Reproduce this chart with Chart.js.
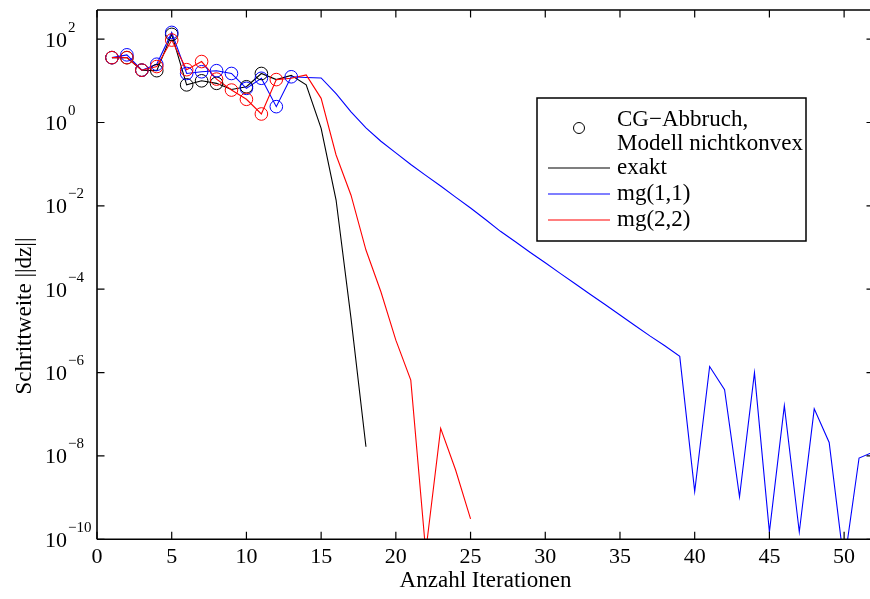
<!DOCTYPE html>
<html><head><meta charset="utf-8">
<script src="https://cdn.jsdelivr.net/npm/chart.js@4.4.1/dist/chart.umd.min.js"></script>
<style>
html,body{margin:0;padding:0;overflow:hidden;background:#fff;width:870px;height:599px}
#wrap{position:relative;width:874px;height:599px}
canvas{display:block}
</style></head>
<body><div id="wrap"><canvas id="c" width="874" height="599"></canvas></div>
<script>
// ---- data ----
const iterations = [1,2,3,4,5,6,7,8,9,10,11,12,13,14,15,16,17,18,19,20,21,22,23,24,25,26,
  27,28,29,30,31,32,33,34,35,36,37,38,39,40,41,42,43,44,45,46,47,48,49,50,51,52];
const exaktValues = [36, 36, 18, 17.5, 130, 8.0, 10, 8.7, 6.2, 7.2, 15, 10.7, 13.5, 8.0,
  0.72, 0.0138, 2.0e-5, 1.66e-8];
const mg11Values = [36, 42, 18, 25, 145, 15, 16.5, 17.5, 15, 6.6,
  11.5, 2.4, 12.5, 12, 11.7, 4.9, 1.8, 0.74, 0.355, 0.186,
  0.098, 0.054, 0.030, 0.0162, 0.0089, 0.0047, 0.00245, 0.00138, 7.6e-4, 4.3e-4,
  2.4e-4, 1.35e-4, 7.6e-5, 4.3e-5, 2.4e-5, 1.35e-5, 7.6e-6, 4.4e-6, 2.45e-6, 1.4e-9,
  1.4e-6, 3.9e-7, 1.05e-9, 1.0e-6, 1.5e-10, 1.6e-7, 1.5e-10, 1.35e-7, 2.1e-8, 2.5e-11,
  8.9e-9, 1.26e-8];
const mg22Values = [36, 36, 18, 22, 95, 18.5, 29, 11, 6.0, 3.6, 1.6, 10.7, 11.5, 13.8,
  3.8, 0.166, 0.018, 8.7e-4, 8.7e-5, 6.0e-6, 6.6e-7, 5e-11, 4.6e-8, 4.6e-9, 3.1e-10];
// iterations where CG stopped because the model was non-convex (circles)
const cgExakt = [1,2,3,4,5,6,7,8,10,11];
const cgMg11 = [1,2,3,4,5,6,7,8,9,10,11,12,13];
const cgMg22 = [1,2,3,4,5,6,7,8,9,10,11,12];
const xTicks = [0,5,10,15,20,25,30,35,40,45,50];
const yTickExponents = [-10,-8,-6,-4,-2,0,2];
const xLabel = 'Anzahl Iterationen';
const yLabel = 'Schrittweite ||dz||';
const legendCircleText = ['CG\u2212Abbruch,', 'Modell nichtkonvex'];
const seriesNames = ['exakt', 'mg(1,1)', 'mg(2,2)'];
const seriesColors = ['#000000', '#0000ff', '#ff0000'];

const FONT = "'Liberation Serif','Times New Roman',serif";

function linePts(vals){ return vals.map((v,i)=>({x:iterations[i], y:v})); }
function circlePts(vals, idx){ return idx.map(i=>({x:i, y:vals[i-1]})); }

const lineDs = (label, vals, color) => ({
  label, data: linePts(vals), borderColor: color, backgroundColor: color,
  borderWidth: 1.1, pointRadius: 0, tension: 0, showLine: true, fill:false
});
const circDs = (label, vals, idx, color) => ({
  label, data: circlePts(vals, idx), borderColor: color, backgroundColor:'rgba(0,0,0,0)',
  pointBorderColor: color, pointBackgroundColor:'rgba(0,0,0,0)',
  pointRadius: 6.3, pointBorderWidth: 1, showLine: false
});

const frame = {
  id: 'frame',
  afterDatasetsDraw(chart){
    const ctx = chart.ctx, a = chart.chartArea;
    const xs = chart.scales.x, ys = chart.scales.y;
    ctx.save();
    ctx.strokeStyle = '#000'; ctx.lineWidth = 1.6;
    ctx.beginPath();
    ctx.moveTo(a.left, a.top); ctx.lineTo(a.right, a.top);
    ctx.moveTo(a.left, a.top); ctx.lineTo(a.left, a.bottom);
    ctx.moveTo(a.left, a.bottom); ctx.lineTo(a.right, a.bottom);
    ctx.moveTo(a.right, a.top); ctx.lineTo(a.right, a.bottom);
    ctx.stroke();
    // inward ticks
    const TL = 7.5;
    ctx.lineWidth = 1.2;
    ctx.beginPath();
    xTicks.forEach(v=>{
      const px = xs.getPixelForValue(v);
      ctx.moveTo(px, a.bottom); ctx.lineTo(px, a.bottom - TL);
      ctx.moveTo(px, a.top); ctx.lineTo(px, a.top + TL);
    });
    yTickExponents.forEach(e=>{
      const py = ys.getPixelForValue(Math.pow(10,e));
      ctx.moveTo(a.left, py); ctx.lineTo(a.left + TL, py);
      ctx.moveTo(a.right, py); ctx.lineTo(a.right - TL, py);
    });
    ctx.stroke();
    // y tick labels 10^e
    ctx.fillStyle = '#000';
    ctx.textBaseline = 'alphabetic';
    yTickExponents.forEach(e=>{
      const py = ys.getPixelForValue(Math.pow(10,e));
      ctx.font = '22px ' + FONT;
      ctx.textAlign = 'right';
      ctx.fillText('10', a.left - 30, py + 7.5);
      ctx.font = '15px ' + FONT;
      ctx.textAlign = 'left';
      ctx.fillText(e < 0 ? '\u2212' + Math.abs(e) : String(e), a.left - 29, py - 7.5);
    });
    // y title
    ctx.save();
    ctx.translate(25, 316);
    ctx.rotate(-Math.PI/2);
    ctx.font = '23px ' + FONT;
    ctx.textAlign = 'center'; ctx.textBaseline = 'middle';
    ctx.fillText(yLabel, 0, 0);
    ctx.restore();
    // legend
    const L = 537, T = 98, R = 806, B = 241;
    ctx.fillStyle = '#fff';
    ctx.fillRect(L, T, R-L, B-T);
    ctx.strokeStyle = '#000'; ctx.lineWidth = 1.5;
    ctx.strokeRect(L, T, R-L, B-T);
    ctx.fillStyle = '#000';
    ctx.font = '23px ' + FONT;
    ctx.textAlign = 'left'; ctx.textBaseline = 'middle';
    ctx.fillText(legendCircleText[0], 617, 120);
    ctx.fillText(legendCircleText[1], 617, 144);
    ctx.beginPath(); ctx.lineWidth = 1; ctx.strokeStyle = '#000';
    ctx.arc(579, 128, 5.5, 0, Math.PI*2); ctx.stroke();
    const rows = [168, 194, 220];
    seriesNames.forEach((n,i)=>{
      ctx.strokeStyle = seriesColors[i]; ctx.lineWidth = 1.1;
      ctx.beginPath(); ctx.moveTo(548, rows[i]); ctx.lineTo(610, rows[i]); ctx.stroke();
      ctx.fillStyle = '#000';
      ctx.fillText(n, 617, rows[i]);
    });
    ctx.restore();
  }
};

new Chart(document.getElementById('c'), {
  type: 'scatter',
  data: { datasets: [
    circDs('CG mg(2,2)', mg22Values, cgMg22, seriesColors[2]),
    circDs('CG mg(1,1)', mg11Values, cgMg11, seriesColors[1]),
    circDs('CG exakt', exaktValues, cgExakt, seriesColors[0]),
    lineDs(seriesNames[2], mg22Values, seriesColors[2]),
    lineDs(seriesNames[1], mg11Values, seriesColors[1]),
    lineDs(seriesNames[0], exaktValues, seriesColors[0])
  ]},
  options: {
    responsive: false, animation: false, devicePixelRatio: 1,
    layout: { autoPadding: false, padding: { top: 10, left: 0, right: 0, bottom: 0 } },
    plugins: { legend: { display: false }, tooltip: { enabled: false } },
    scales: {
      x: {
        type: 'linear', min: 0, max: 52,
        grid: { display: false }, border: { display: false },
        afterBuildTicks: s => { s.ticks = xTicks.map(v => ({ value: v })); },
        afterFit: s => { s.height = 59.7; s.paddingLeft = 0; s.paddingRight = 0; },
        ticks: { font: { family: FONT, size: 22 }, color: '#000', padding: -3,
                 maxRotation: 0, autoSkip: false, callback: v => String(v) },
        title: { display: true, text: xLabel, color: '#000',
                 font: { family: FONT, size: 23 }, padding: { top: 4, bottom: 4 } }
      },
      y: {
        type: 'logarithmic', min: 1e-10, max: 500,
        grid: { display: false }, border: { display: false },
        afterBuildTicks: s => { s.ticks = yTickExponents.map(e => ({ value: Math.pow(10, e) })); },
        afterFit: s => { s.width = 97; s.paddingTop = 0; s.paddingBottom = 0; },
        ticks: { display: false }
      }
    }
  },
  plugins: [frame]
});
</script>
</body></html>
